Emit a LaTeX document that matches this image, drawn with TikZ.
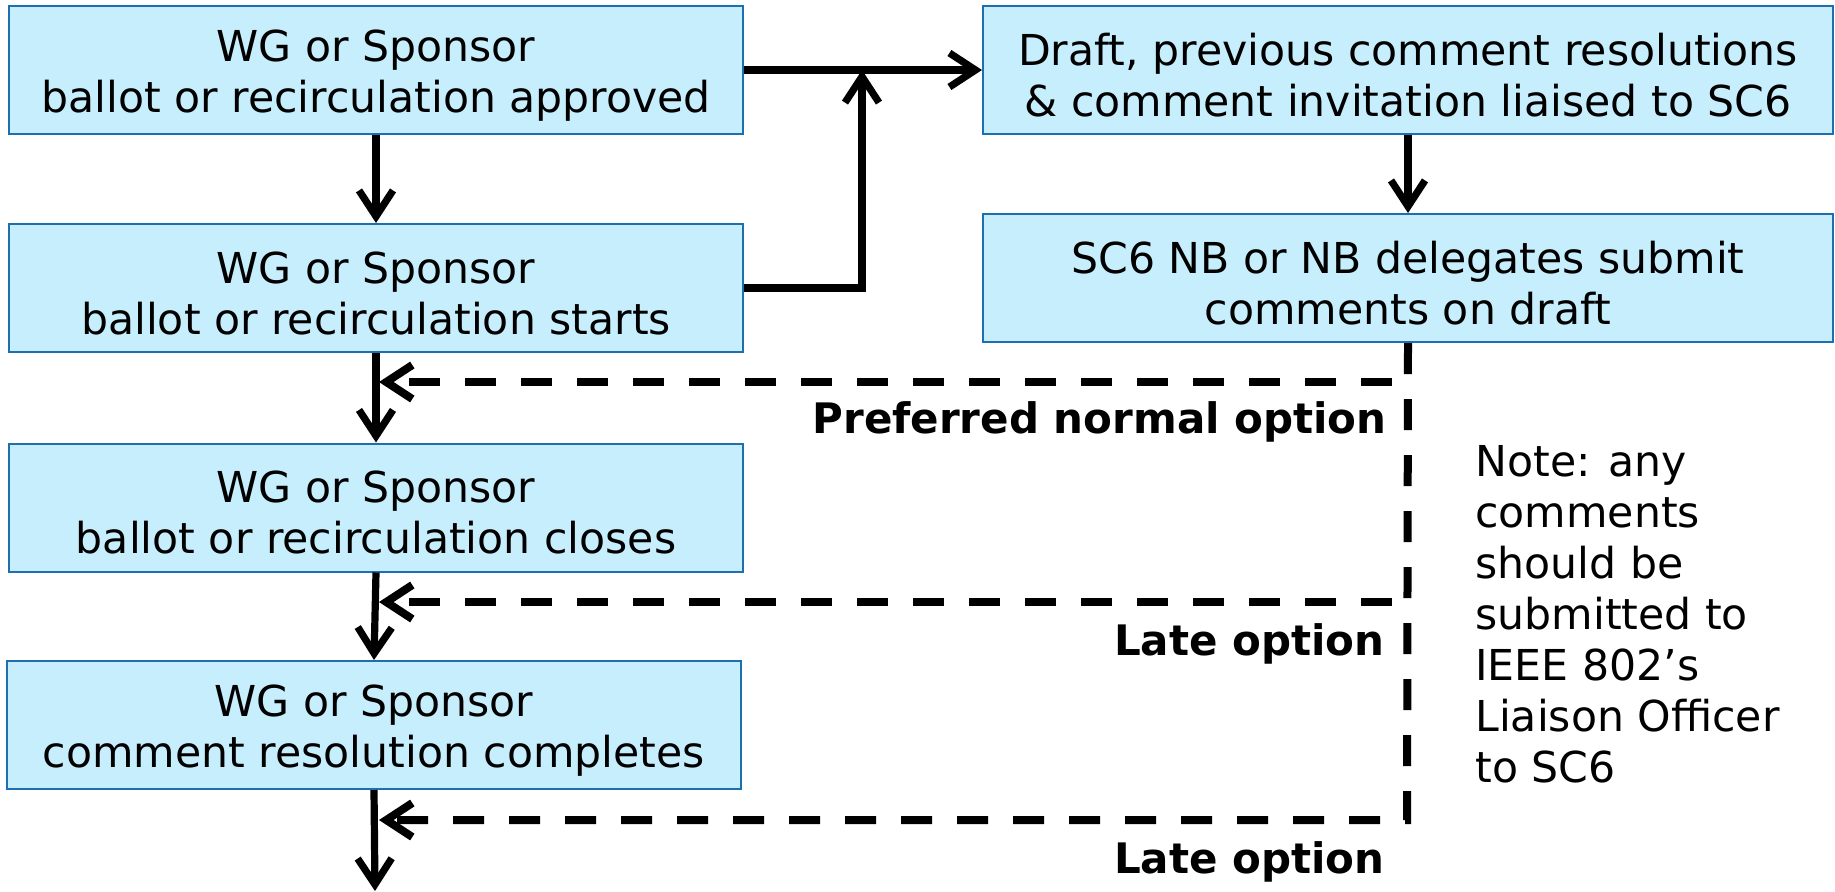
\documentclass[tikz,border=0pt]{standalone}
\usepackage{fontspec}
\setmainfont{DejaVu Sans}
\usetikzlibrary{arrows.meta}
\definecolor{boxfill}{HTML}{C6EEFC}
\definecolor{boxline}{HTML}{1E6FB0}
\newcommand{\tstrut}{\rule{0pt}{21pt}}
\tikzset{
  box/.style={draw=boxline, fill=boxfill, line width=1pt, minimum height=64pt,
    align=center, inner sep=0pt, font=\fontsize{21.3}{25.5}\selectfont},
  leftbox/.style={box, minimum width=367pt},
  rightbox/.style={box, minimum width=425pt},
  arr/.style={line width=3.6pt, -{Straight Barb[length=13pt,width=17pt]}},
  dasharr/.style={line width=4pt, dash pattern=on 15.5pt off 12.5pt, -{Straight Barb[length=13pt,width=17pt]}},
  optlabel/.style={font=\fontsize{21}{25.5}\selectfont\bfseries, inner sep=0pt, anchor=base east},
  notetext/.style={font=\fontsize{21.3}{25.5}\selectfont, align=left, inner sep=0pt, anchor=base west}
}
\begin{document}
\begin{tikzpicture}[x=0.5pt,y=-0.5pt]
\useasboundingbox (0,0) rectangle (1835,891);
% boxes
\node[leftbox] (b1) at (376,70) {\tstrut WG or Sponsor\\ballot or recirculation approved};
\node[leftbox] (b2) at (376,288) {\tstrut WG or Sponsor\\ballot or recirculation starts};
\node[leftbox] (b3) at (376,507.5) {\tstrut WG or Sponsor\\ballot or recirculation closes};
\node[leftbox] (b4) at (374,725) {\tstrut WG or Sponsor\\comment resolution completes};
\node[rightbox] (r1) at (1408,70) {\tstrut Draft, previous comment resolutions\\\& comment invitation liaised to SC6};
\node[rightbox] (r2) at (1408,278) {\tstrut SC6 NB or NB delegates submit\\comments on draft};
% coordinates
\coordinate (join) at (862,70);
\coordinate (turn) at (862,288);
\coordinate (corner) at (1407,820);
\coordinate (d1) at (1392,382);
\coordinate (d2) at (1392,602);
\coordinate (e1) at (379,382);
\coordinate (e2) at (379,602);
\coordinate (e3) at (379,820);
\coordinate (bottom) at (375,891);
% solid connectors
\draw[arr] (b1) -- (b2);
\draw[arr] (b2) -- (b3);
\draw[arr] (b3.south) -- (b4.north);
\draw[arr] (b4.south) -- (bottom);
\draw[arr] (b1.east) -- (r1.west);
\draw[arr] (b2.east) -- (turn) -- (join);
\draw[arr] (r1) -- (r2);
% dashed connectors
\draw[dasharr] (r2.south) -- (corner) -- (e3);
\draw[dasharr] (d1) -- (e1);
\draw[dasharr] (d2) -- (e2);
% labels
\node[optlabel] (l1) at (1387,433) {Preferred normal option};
\node[optlabel] (l2) at (1385,655) {Late option};
\node[optlabel] (l3) at (1385,873) {Late option};
\node[notetext] (note) at (1475,782) {Note: any\\comments\\should be\\submitted to\\IEEE 802’s\\Liaison Officer\\to SC6};
\end{tikzpicture}
\end{document}
